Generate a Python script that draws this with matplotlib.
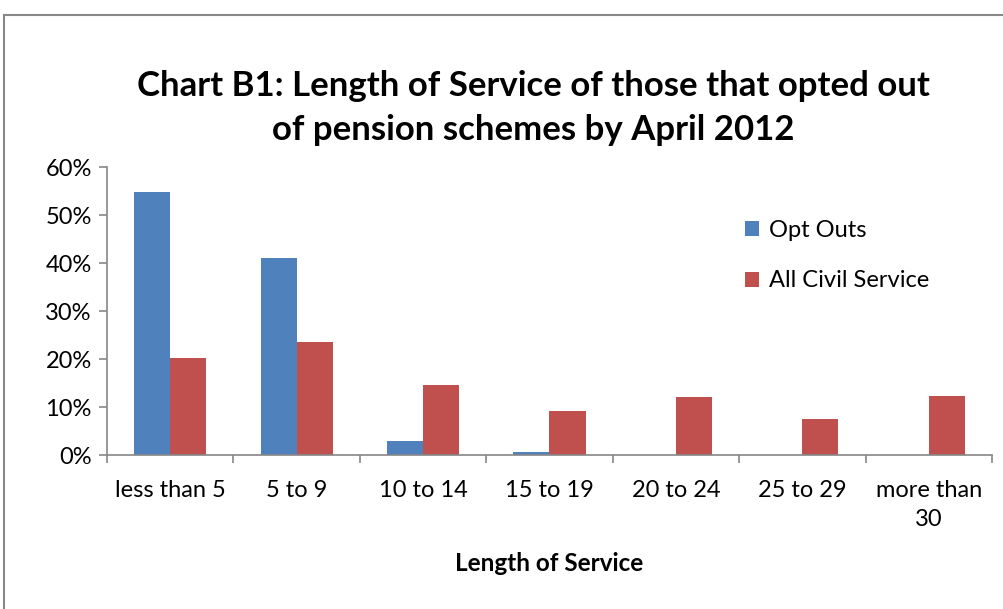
import matplotlib.pyplot as plt
import numpy as np
from matplotlib.patches import Rectangle

categories = ["less than 5", "5 to 9", "10 to 14", "15 to 19", "20 to 24", "25 to 29", "more than\n30"]
opt_outs = [54.7, 41.1, 2.9, 0.7, 0.0, 0.0, 0.0]
all_civil = [20.2, 23.5, 14.5, 9.2, 12.0, 7.6, 12.3]
y_ticks = [0, 10, 20, 30, 40, 50, 60]

plt.rcParams['font.family'] = ['Lato', 'DejaVu Sans']

def plot_chart():
    fig = plt.figure(figsize=(10.04, 6.09), dpi=100)
    ax = fig.add_axes([107 / 1004, (609 - 455) / 609, (992 - 107) / 1004, (455 - 167) / 609])

    x = np.arange(len(categories))
    w = 1 / 3.5
    ax.bar(x - w / 2, opt_outs, w, color='#4f81bd', label="Opt Outs")
    ax.bar(x + w / 2, all_civil, w, color='#c0504d', label="All Civil Service")

    ax.set_xlim(-0.5, len(categories) - 0.5)
    ax.set_ylim(0, 60)
    ax.set_yticks(y_ticks)
    ax.set_yticklabels([f"{v}%" for v in y_ticks], fontsize=17)
    ax.set_xticks(np.arange(len(categories) + 1) - 0.5)
    ax.set_xticklabels([])
    ax.set_xticks(x, minor=True)
    ax.set_xticklabels(categories, minor=True, fontsize=17, linespacing=1.45)
    ax.tick_params(axis='x', which='minor', length=0, pad=18)
    ax.tick_params(axis='both', which='major', color='#868686', length=6, width=1.2)
    ax.tick_params(axis='y', pad=5)

    for s in ['top', 'right']:
        ax.spines[s].set_visible(False)
    for s in ['left', 'bottom']:
        ax.spines[s].set_color('#868686')
        ax.spines[s].set_linewidth(1.2)

    ax.set_xlabel("Length of Service", fontsize=17.5, fontweight='bold', labelpad=16)
    fig.text(533 / 1004, 1 - 108 / 609,
             "Chart B1: Length of Service of those that opted out\nof pension schemes by April 2012",
             ha='center', va='center', fontsize=25, fontweight='bold', linespacing=1.45)

    ax.legend(loc='upper left', bbox_to_anchor=(0.697, 0.89), frameon=False, fontsize=17,
              handlelength=0.6, handleheight=0.6, handletextpad=0.4, labelspacing=1.25)

    fig.patches.append(Rectangle((4 / 1004, -0.1), 1.1, 1 - 15 / 609 + 0.1, transform=fig.transFigure,
                                 fill=False, edgecolor='#888888', linewidth=1.5))

    fig.savefig("out.png", dpi=100)

if __name__ == "__main__":
    plot_chart()
